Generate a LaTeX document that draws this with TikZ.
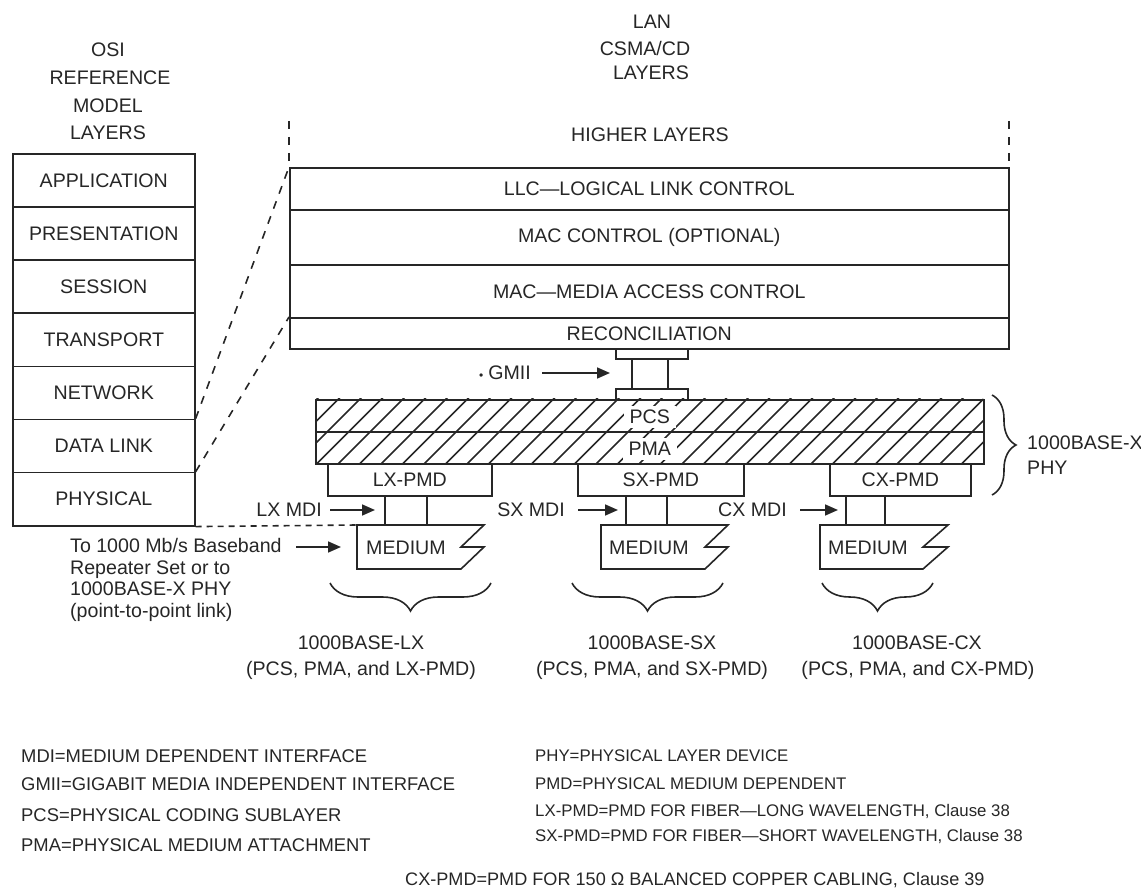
\documentclass[tikz,border=0pt]{standalone}
\usepackage{fontspec}
\setmainfont{Liberation Sans}
\usetikzlibrary{arrows.meta,decorations.pathreplacing}
\begin{document}
\begin{tikzpicture}[x=1pt,y=-1pt,
  every node/.style={text=black!85},
  lbl/.style={font=\fontsize{19.6}{21.7}\selectfont, inner sep=0pt},
  leg/.style={font=\fontsize{18.4}{20}\selectfont, inner sep=0pt, anchor=west},
  legs/.style={font=\fontsize{16.8}{20}\selectfont, inner sep=0pt, anchor=west},
  box/.style={draw=black!85, line width=1.6pt, inner sep=0pt, font=\fontsize{19.6}{21.7}\selectfont},
  ln/.style={draw=black!85, line width=1.6pt},
  dsh/.style={draw=black!85, line width=1.6pt, dash pattern=on 8pt off 8pt},
  hatch/.style={draw=black!85, line width=1.5pt},
  arr/.style={draw=black!85, line width=1.6pt, -{Triangle[length=13pt,width=11pt]}},
  brc/.style={draw=black!85, line width=1.6pt, decorate},
]
\useasboundingbox (0,0) rectangle (1141,890);

% ---- OSI header
\node[lbl] (osi1) at (108,50) {OSI};
\node[lbl] (osi2) at (110,78) {REFERENCE};
\node[lbl] (osi3) at (108,106) {MODEL};
\node[lbl] (osi4) at (108,133) {LAYERS};

% ---- OSI stack
\foreach \t/\n [count=\k from 0] in {APPLICATION/app,PRESENTATION/pres,SESSION/sess,TRANSPORT/trans,NETWORK/net,DATA LINK/dlink,PHYSICAL/phys}{
  \node[box, minimum width=182pt, minimum height=53.14pt, anchor=north west] (\n) at (12,153+\k*53.14) {\t};
}

% ---- LAN header
\node[lbl] (lan1) at (652,22) {LAN};
\node[lbl] (lan2) at (645,48) {CSMA/CD};
\node[lbl] (lan3) at (651,73) {LAYERS};
\node[lbl] (higher) at (650,135) {HIGHER LAYERS};

% ---- LAN stack
\node[box, minimum width=719pt, minimum height=42pt, anchor=north west] (llc) at (289,167) {LLC—LOGICAL LINK CONTROL};
\node[box, minimum width=719pt, minimum height=55pt, anchor=north west] (macc) at (289,209) {MAC CONTROL (OPTIONAL)};
\node[box, minimum width=719pt, minimum height=53pt, anchor=north west] (mac) at (289,264) {MAC—MEDIA ACCESS CONTROL};
\node[box, minimum width=719pt, minimum height=31pt, anchor=north west] (rec) at (289,317) {RECONCILIATION};

% dashed upward continuation
\coordinate (hlL1) at (289,121);
\coordinate (hlL2) at (289,161);
\coordinate (hlR1) at (1009,121);
\coordinate (hlR2) at (1009,161);
\draw[dsh] (hlL1) -- (hlL2);
\draw[dsh] (hlR1) -- (hlR2);

% dashed diagonals
\draw[dsh] (dlink.north east) -- (llc.north west);
\draw[dsh] (phys.north east) -- (rec.north west);

% ---- GMII
\node[draw=black!85, line width=1.6pt, minimum width=72pt, minimum height=10pt, inner sep=0pt, anchor=north west] (tabA) at (615,348) {};
\node[draw=black!85, line width=1.6pt, minimum width=72pt, minimum height=11pt, inner sep=0pt, anchor=north west] (tabB) at (615,388) {};
\draw[ln] ([xshift=17pt]tabA.south west) -- ([xshift=17pt]tabB.north west);
\draw[ln] ([xshift=53pt]tabA.south west) -- ([xshift=53pt]tabB.north west);
\node[lbl, anchor=east] (gmii) at (531,373) {{\fontsize{12}{12}\selectfont •}\hspace{5pt}GMII};
\coordinate (gmiiEnd) at (610,373);
\draw[arr] ([xshift=11pt]gmii.east) -- (gmiiEnd);

% ---- hatched PCS/PMA band
\begin{scope}
  \clip (315,399) rectangle (983,463);
  \foreach \i in {0,...,36}{
    \draw[hatch] (251+\i*21.5,465) -- ++(68,-68);
  }
\end{scope}
\node[box, minimum width=668pt, minimum height=32pt, anchor=north west] (pcs) at (315,399) {};
\node[box, minimum width=668pt, minimum height=32pt, anchor=north west] (pma) at (315,431) {};
\node[lbl, fill=white, inner xsep=6pt, inner ysep=4pt] (pcsT) at ([yshift=-1pt]pcs.center) {PCS};
\node[lbl, fill=white, inner xsep=6pt, inner ysep=4pt] (pmaT) at ([yshift=-1pt]pma.center) {PMA};

% ---- right brace
\coordinate (phyB1) at (992,395);
\coordinate (phyB2) at (992,495);
\draw[brc, decoration={brace, amplitude=24pt}] (phyB1) -- (phyB2);
\node[lbl, anchor=west] (phy1) at (1027,443) {1000BASE-X};
\node[lbl, anchor=west] (phy2) at (1027,468) {PHY};

% ---- PMD boxes
\node[box, minimum width=164pt, minimum height=32pt, anchor=north west] (lxpmd) at (327,463) {LX-PMD};
\node[box, minimum width=166pt, minimum height=32pt, anchor=north west] (sxpmd) at (577,463) {SX-PMD};
\node[box, minimum width=141pt, minimum height=32pt, anchor=north west] (cxpmd) at (829,463) {CX-PMD};

% ---- media
\draw[ln] (357,525) -- (484,525) -- (461,547) -- (484,547) -- (461,569) -- (357,569) -- cycle;
\draw[ln] (601,525) -- (728,525) -- (705,547) -- (728,547) -- (705,569) -- (601,569) -- cycle;
\draw[ln] (820,525) -- (948,525) -- (923,547) -- (948,547) -- (923,569) -- (820,569) -- cycle;
\coordinate (lxmedW) at (357,547);
\node[lbl, anchor=west] (lxmed) at (366,548) {MEDIUM};
\node[lbl, anchor=west] (sxmed) at (609,548) {MEDIUM};
\node[lbl, anchor=west] (cxmed) at (828,548) {MEDIUM};

% MDI links
\coordinate (lx1) at (385,525); \coordinate (lx2) at (427,525);
\coordinate (sx1) at (626,525); \coordinate (sx2) at (667,525);
\coordinate (cx1) at (846,525); \coordinate (cx2) at (885,525);
\foreach \c/\p in {lx1/lxpmd,lx2/lxpmd,sx1/sxpmd,sx2/sxpmd,cx1/cxpmd,cx2/cxpmd}{
  \draw[ln] (\p.south -| \c) -- (\c);
}

% MDI labels and arrows
\node[lbl, anchor=east] (lxmdi) at (322,510) {LX MDI};
\node[lbl, anchor=east] (sxmdi) at (565,510) {SX MDI};
\node[lbl, anchor=east] (cxmdi) at (787,510) {CX MDI};
\coordinate (lxmdiEnd) at (375,510);
\coordinate (sxmdiEnd) at (618,510);
\coordinate (cxmdiEnd) at (838,510);
\draw[arr] ([xshift=8pt]lxmdi.east) -- (lxmdiEnd);
\draw[arr] ([xshift=13pt]sxmdi.east) -- (sxmdiEnd);
\draw[arr] ([xshift=13pt]cxmdi.east) -- (cxmdiEnd);

% dashed line from OSI physical to medium
\draw[draw=black!85, line width=1.6pt, dash pattern=on 6pt off 5pt] (phys.south east) -- (357,525);

% "To 1000 Mb/s" note
\node[lbl, anchor=north west, align=left] (tonote) at (70,538) {To 1000 Mb/s Baseband\\Repeater Set or to\\1000BASE-X PHY\\(point-to-point link)};
\coordinate (toStart) at (296,547);
\draw[arr] (toStart) -- ([xshift=-16pt]lxmedW);

% ---- bottom braces
\draw[brc, decoration={brace, amplitude=28pt}] (491,583) -- (330,583);
\draw[brc, decoration={brace, amplitude=28pt}] (723,583) -- (572,583);
\draw[brc, decoration={brace, amplitude=28pt}] (933,583) -- (822,583);

\node[lbl] (lxlab1) at (361,643) {1000BASE-LX};
\node[lbl] (lxlab2) at (361,670) {(PCS, PMA, and LX-PMD)};
\node[lbl] (sxlab1) at (652,643) {1000BASE-SX};
\node[lbl] (sxlab2) at (652,670) {(PCS, PMA, and SX-PMD)};
\node[lbl] (cxlab1) at (917,643) {1000BASE-CX};
\node[lbl] (cxlab2) at (918,670) {(PCS, PMA, and CX-PMD)};

% ---- legend
\node[leg] (l1) at (21,756) {MDI=MEDIUM DEPENDENT INTERFACE};
\node[leg] (l2) at (21,784) {GMII=GIGABIT MEDIA INDEPENDENT INTERFACE};
\node[leg] (l3) at (21,815) {PCS=PHYSICAL CODING SUBLAYER};
\node[leg] (l4) at (21,845) {PMA=PHYSICAL MEDIUM ATTACHMENT};
\node[legs] (r1) at (535,756) {PHY=PHYSICAL LAYER DEVICE};
\node[legs] (r2) at (535,784) {PMD=PHYSICAL MEDIUM DEPENDENT};
\node[legs] (r3) at (535,811) {LX-PMD=PMD FOR FIBER—LONG WAVELENGTH, Clause 38};
\node[legs] (r4) at (535,836) {SX-PMD=PMD FOR FIBER—SHORT WAVELENGTH, Clause 38};
\node[leg, font=\fontsize{18.1}{20}\selectfont] (r5) at (405,880) {CX-PMD=PMD FOR 150 Ω BALANCED COPPER CABLING, Clause 39};
\end{tikzpicture}
\end{document}
